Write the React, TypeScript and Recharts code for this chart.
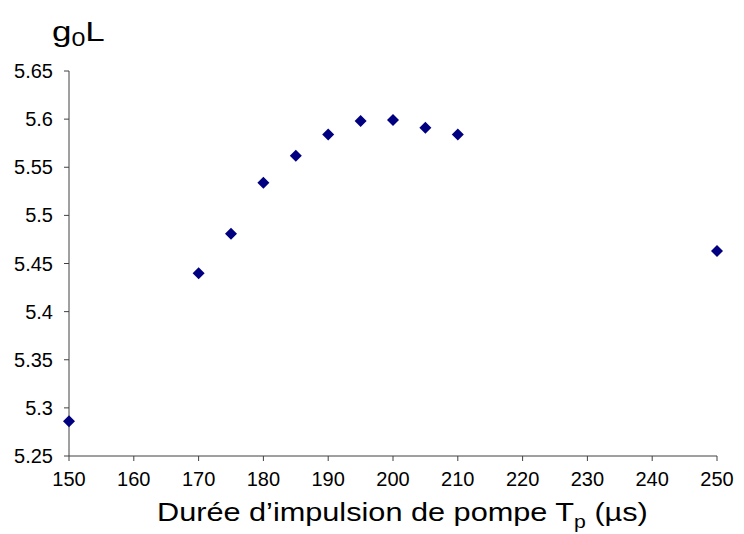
import React from "react";
import { ScatterChart, Scatter, XAxis, YAxis, ZAxis, Label } from "recharts";

const pulseDurations = [150, 170, 175, 180, 185, 190, 195, 200, 205, 210, 250];
const gainValues = [5.286, 5.44, 5.481, 5.534, 5.562, 5.584, 5.598, 5.599, 5.591, 5.584, 5.463];
const xTicks = [150, 160, 170, 180, 190, 200, 210, 220, 230, 240, 250];
const yTicks = [5.25, 5.3, 5.35, 5.4, 5.45, 5.5, 5.55, 5.6, 5.65];
const xTitle = "Durée d’impulsion de pompe T";
const xTitleSub = "p";
const xTitleTail = " (µs)";
const yTitle = "g";
const yTitleSub = "0";
const yTitleTail = "L";

const data = pulseDurations.map((x, i) => ({ x, y: gainValues[i] }));

const FONT = "Liberation Sans, Arial, sans-serif";
const AXIS = "#404040";
const MARK = "#000080";

const Diamond = (props: any) => {
  const { cx, cy } = props;
  if (cx == null || cy == null) return null;
  const r = 6;
  return (
    <polygon
      points={`${cx},${cy - r} ${cx + r},${cy} ${cx},${cy + r} ${cx - r},${cy}`}
      fill={MARK}
    />
  );
};

export default function App() {
  return (
    <div style={{ position: "absolute", left: 0, top: 0, width: 744, height: 534, background: "#fff" }}>
      <ScatterChart
        width={744}
        height={534}
        margin={{ top: 71, right: 27, bottom: 48, left: 0 }}
      >
        <XAxis
          type="number"
          dataKey="x"
          domain={[150, 250]}
          ticks={xTicks}
          interval={0}
          height={30}
          stroke={AXIS}
          tickSize={5}
          tickMargin={11}
          tick={{ fill: "#000", fontSize: 20, fontFamily: FONT }}
          tickLine={{ stroke: AXIS }}
        >
          <Label
            content={() => (
              <text
                transform="translate(157,521) scale(1.18,1)"
                x={0}
                y={0}
                textAnchor="start"
                fontFamily={FONT}
                fontSize={26}
                fill="#000"
              >
                {xTitle}
                <tspan fontSize={18} dy={7}>{xTitleSub}</tspan>
                <tspan dy={-7}>{xTitleTail}</tspan>
              </text>
            )}
          />
        </XAxis>
        <YAxis
          type="number"
          dataKey="y"
          domain={[5.25, 5.65]}
          ticks={yTicks}
          interval={0}
          width={69}
          stroke={AXIS}
          tickSize={5}
          tickMargin={11}
          tickFormatter={(v: number) => String(v)}
          tick={{ fill: "#000", fontSize: 20, fontFamily: FONT }}
          tickLine={{ stroke: AXIS }}
        >
          <Label
            content={() => (
              <text
                transform="translate(52,41) scale(1.25,1)"
                x={0}
                y={0}
                textAnchor="start"
                fontFamily={FONT}
                fontSize={28}
                fill="#000"
              >
                {yTitle}
                <tspan fontSize={20} dy={5}>{yTitleSub}</tspan>
                <tspan dy={-5}>{yTitleTail}</tspan>
              </text>
            )}
          />
        </YAxis>
        <ZAxis type="number" range={[72, 72]} />
        <Scatter
          data={data}
          shape={<Diamond />}
          fill={MARK}
          isAnimationActive={false}
        />
      </ScatterChart>
    </div>
  );
}
